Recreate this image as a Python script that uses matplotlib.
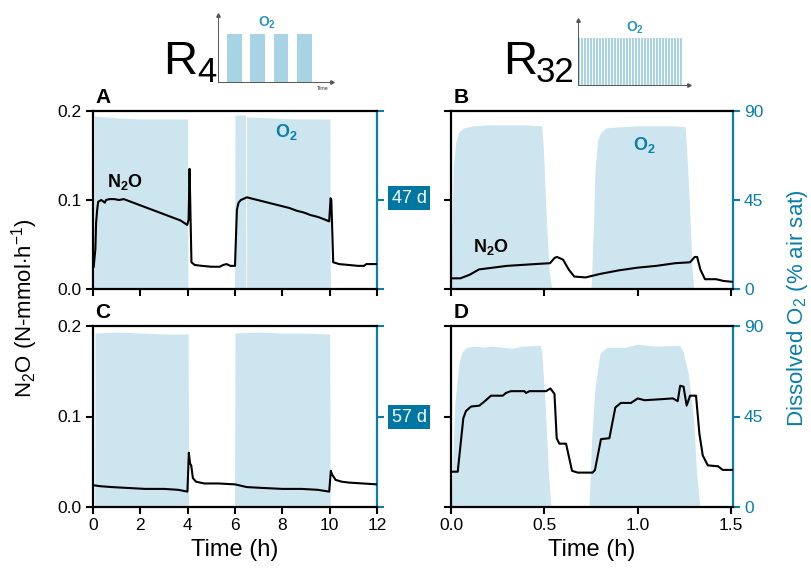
import numpy as np
import matplotlib
matplotlib.use("Agg")
import matplotlib.pyplot as plt

plt.rcParams['font.family'] = ['Liberation Sans', 'DejaVu Sans']
plt.rcParams['mathtext.fontset'] = 'custom'
plt.rcParams['mathtext.rm'] = 'Liberation Sans'
plt.rcParams['mathtext.it'] = 'Liberation Sans:italic'
plt.rcParams['mathtext.bf'] = 'Liberation Sans:bold'

TEAL = '#0a7fa8'
BOX = '#0077a3'
FILL = '#cde5ef'

# ---- panel A : R4, day 47 ----
A_t = [0.03, 0.10, 0.13, 0.18, 0.22, 0.35, 0.50, 0.55, 0.70, 0.90, 1.10, 1.30, 1.60, 1.90, 2.20,
       2.50, 2.80, 3.10, 3.40, 3.70, 3.98, 4.04, 4.08, 4.16, 4.30, 4.60, 5.00, 5.35, 5.50, 5.65,
       5.80, 6.00, 6.08, 6.15, 6.25, 6.50, 6.80, 7.10, 7.40, 7.70, 8.00, 8.30, 8.60, 8.90, 9.20,
       9.50, 9.80, 9.98, 10.04, 10.07, 10.15, 10.40, 10.80, 11.20, 11.45, 11.55, 11.70, 12.0]
A_n2o = [0.025, 0.045, 0.074, 0.090, 0.098, 0.100, 0.097, 0.100, 0.101, 0.101, 0.100, 0.101, 0.098, 0.095, 0.092,
         0.089, 0.086, 0.083, 0.080, 0.077, 0.072, 0.078, 0.135, 0.030, 0.027, 0.026, 0.025, 0.025, 0.027, 0.028,
         0.026, 0.026, 0.089, 0.097, 0.100, 0.103, 0.101, 0.099, 0.097, 0.095, 0.093, 0.091, 0.088, 0.086, 0.083,
         0.081, 0.078, 0.076, 0.102, 0.100, 0.030, 0.028, 0.027, 0.026, 0.026, 0.028, 0.028, 0.028]
A_o2_t = [0.0, 0.04, 0.06, 1.0, 2.0, 3.0, 3.99, 4.01, 5.98, 6.0, 6.3, 6.44, 6.45, 6.48, 6.49,
          7.5, 8.5, 9.5, 10.01, 10.03, 12.0]
A_o2 = [0, 0, 87.5, 86.5, 86, 86, 86, 0, 0, 88, 88, 88, 0, 0, 87,
        86.5, 86, 86, 86, 0, 0]

# ---- panel B : R32, day 47 ----
B_t = [0.0, 0.05, 0.10, 0.15, 0.30, 0.45, 0.53, 0.555, 0.568, 0.60, 0.63, 0.66, 0.72, 0.80, 0.90,
       1.00, 1.10, 1.20, 1.28, 1.305, 1.318, 1.335, 1.36, 1.42, 1.46, 1.51]
B_n2o = [0.012, 0.012, 0.016, 0.022, 0.026, 0.028, 0.029, 0.035, 0.036, 0.033, 0.022, 0.014, 0.013, 0.017, 0.021,
         0.024, 0.026, 0.029, 0.030, 0.036, 0.036, 0.022, 0.011, 0.011, 0.009, 0.008]
B_o2_t = [0.0, 0.005, 0.012, 0.025, 0.04, 0.066, 0.12, 0.2, 0.3, 0.4, 0.486, 0.495, 0.51, 0.525, 0.54,
          0.75, 0.762, 0.771, 0.785, 0.80, 0.83, 0.9, 1.0, 1.1, 1.2, 1.253, 1.262, 1.276, 1.29, 1.30, 1.51]
B_o2 = [0, 30, 62, 74, 79, 81.4, 82.5, 83, 83, 83, 82.5, 70, 36, 10, 0,
        0, 30, 60, 75, 79, 81.5, 82, 82.5, 82.5, 82.5, 82, 70, 45, 11, 0, 0]

# ---- panel C : R4, day 57 ----
C_t = [0.03, 0.3, 0.8, 1.5, 2.2, 3.0, 3.6, 3.99, 4.05, 4.10, 4.15, 4.22, 4.35, 4.7, 5.3,
       6.0, 6.5, 7.2, 8.0, 8.8, 9.5, 9.98, 10.05, 10.1, 10.25, 10.5, 10.8, 11.4, 12.0]
C_n2o = [0.024, 0.023, 0.022, 0.021, 0.020, 0.020, 0.019, 0.017, 0.060, 0.048, 0.046, 0.032, 0.028, 0.026, 0.026,
         0.025, 0.022, 0.021, 0.020, 0.020, 0.019, 0.017, 0.040, 0.036, 0.030, 0.028, 0.027, 0.026, 0.025]
C_o2_t = [0.0, 0.07, 0.09, 1.0, 2.0, 3.0, 4.02, 4.04, 5.98, 6.0, 7.0, 8.0, 9.0, 10.0, 10.02, 12.0]
C_o2 = [0, 0, 86.5, 87, 86.5, 86, 86, 0, 0, 86.5, 87, 86.5, 86.5, 86, 0, 0]

# ---- panel D : R32, day 57 ----
D_t = [0.0, 0.036, 0.066, 0.080, 0.107, 0.152, 0.187, 0.214, 0.277, 0.294, 0.321, 0.393, 0.402, 0.420, 0.509,
       0.532, 0.554, 0.566, 0.580, 0.616, 0.648, 0.678, 0.759, 0.771, 0.803, 0.848, 0.880, 0.910, 0.964, 1.000,
       1.036, 1.116, 1.188, 1.214, 1.227, 1.245, 1.262, 1.280, 1.312, 1.330, 1.348, 1.375, 1.430, 1.455, 1.510]
D_n2o = [0.039, 0.039, 0.098, 0.106, 0.111, 0.112, 0.118, 0.123, 0.123, 0.126, 0.128, 0.128, 0.126, 0.128, 0.128,
         0.131, 0.125, 0.076, 0.070, 0.070, 0.040, 0.038, 0.038, 0.041, 0.075, 0.076, 0.110, 0.115, 0.115, 0.120,
         0.118, 0.119, 0.120, 0.117, 0.134, 0.133, 0.112, 0.123, 0.123, 0.081, 0.057, 0.046, 0.045, 0.041, 0.041]
D_o2_t = [0.0, 0.01, 0.021, 0.043, 0.059, 0.085, 0.12, 0.17, 0.22, 0.27, 0.33, 0.38, 0.43, 0.477, 0.486,
          0.504, 0.521, 0.535, 0.739, 0.754, 0.771, 0.798, 0.833, 0.93, 1.0, 1.09, 1.18, 1.225, 1.243, 1.27,
          1.30, 1.315, 1.333, 1.51]
D_o2 = [0, 25, 51.7, 71.6, 77.2, 79.4, 80, 79.5, 80, 79.5, 78.9, 80, 80.2, 80.5, 77,
        51.7, 18.4, 0, 0, 35, 59.8, 76.4, 79.4, 79.4, 81, 80, 80.2, 80.3, 77.2, 66.6,
        43, 16.9, 0, 0]

n2o_ticks = [0.0, 0.1, 0.2]
o2_ticks = [0, 45, 90]
r4_xticks = [0, 2, 4, 6, 8, 10, 12]
r32_xticks = [0.0, 0.5, 1.0, 1.5]
n_pulses_r4 = 4
n_pulses_r32 = 35
day_labels = ['47 d', '57 d']

W, H = 811, 574
fig = plt.figure(figsize=(W / 100, H / 100), dpi=100)


def rect(x0, y0, x1, y1):
    # pixel box (top-left origin) -> figure fraction rect
    return [x0 / W, 1 - y1 / H, (x1 - x0) / W, (y1 - y0) / H]


def panel(r, t, n2o, o2t, o2, xlim, xticks, xlab, left_lab, right_lab):
    ax = fig.add_axes(r)
    ax2 = ax.twinx()
    ax2.fill_between(o2t, o2, 0, color=FILL, lw=0)
    ax.plot(t, n2o, color='k', lw=1.5, solid_joinstyle='round')
    ax.set_zorder(ax2.get_zorder() + 1)
    ax.patch.set_visible(False)

    ax.set_xlim(*xlim)
    ax.set_ylim(0, 0.2)
    ax2.set_ylim(0, 90)
    ax.set_xticks(xticks)
    ax.set_yticks(n2o_ticks)
    ax2.set_yticks(o2_ticks)
    ax.spines['right'].set_visible(False)
    for s in ['top', 'left', 'bottom']:
        ax2.spines[s].set_visible(False)
        ax.spines[s].set_linewidth(1.6)
    ax2.spines['right'].set_color(TEAL)
    ax2.spines['right'].set_linewidth(1.6)

    ax.tick_params(direction='out', length=5, width=1.5, labelsize=12.5, pad=3)
    ax2.tick_params(direction='out', length=5, width=1.5, labelsize=12.5, colors=TEAL, pad=3)
    if xlab:
        ax.set_xticklabels([('%g' % v) if isinstance(v, int) else ('%.1f' % v) for v in xticks])
        ax.set_xlabel('Time (h)', fontsize=17, labelpad=4)
    else:
        ax.set_xticklabels([])
    if left_lab:
        ax.set_yticklabels(['%.1f' % v for v in n2o_ticks])
    else:
        ax.set_yticklabels([])
    if not right_lab:
        ax2.set_yticklabels([])
    return ax, ax2


axA, _ = panel(rect(93, 111, 377, 289), A_t, A_n2o, A_o2_t, A_o2, (0, 12), r4_xticks, False, True, False)
axB, _ = panel(rect(451, 111, 733, 289), B_t, B_n2o, B_o2_t, B_o2, (0, 1.51), r32_xticks, False, False, True)
axC, _ = panel(rect(93, 326, 377, 507), C_t, C_n2o, C_o2_t, C_o2, (0, 12), r4_xticks, True, True, False)
axD, _ = panel(rect(451, 326, 733, 507), D_t, D_n2o, D_o2_t, D_o2, (0, 1.51), r32_xticks, True, False, True)


def ftext(x, y, s, **kw):
    fig.text(x / W, 1 - y / H, s, **kw)


# panel letters
for lab, (x, y) in zip('ABCD', [(95, 97), (454, 97), (95, 313), (454, 313)]):
    ftext(x, y, lab, fontsize=15, fontweight='bold', va='center', ha='left')

# in-plot labels
ftext(125, 182, r'$\mathbf{N_2O}$', fontsize=13, ha='center', va='center')
ftext(286, 132, r'$\mathbf{O_2}$', fontsize=13, ha='center', va='center', color=TEAL)
ftext(491, 247, r'$\mathbf{N_2O}$', fontsize=13, ha='center', va='center')
ftext(644, 145, r'$\mathbf{O_2}$', fontsize=13, ha='center', va='center', color=TEAL)

# day boxes
for lab, y in zip(day_labels, [198, 417]):
    ftext(409, y, lab, fontsize=13, color='white', ha='center', va='center',
          bbox=dict(boxstyle='square,pad=0.22', fc=BOX, ec='none'))

# axis titles
ftext(25, 308, r'N$_2$O (N-mmol$\cdot$h$^{-1}$)', fontsize=16, rotation=90, ha='center', va='center')
ftext(797, 308, r'Dissolved O$_2$ (% air sat)', fontsize=16, rotation=90, ha='center', va='center',
      color=TEAL)

# reactor titles
ftext(163, 74, 'R', fontsize=34, ha='left', va='baseline')
ftext(197, 82, '4', fontsize=25, ha='left', va='baseline')
ftext(503, 74, 'R', fontsize=34, ha='left', va='baseline')
ftext(536, 82, '32', fontsize=25, ha='left', va='baseline')


def schematic(r, n, period, width, x0, xmax, o2_xy):
    ax = fig.add_axes(r)
    starts = x0 + period * np.arange(n)
    ax.bar(starts, 0.72, width=width, align='edge', color='#a8d3e5', lw=0)
    ax.set_xlim(0, xmax)
    ax.set_ylim(0, 1)
    ax.set_xticks([])
    ax.set_yticks([])
    for s in ['top', 'right']:
        ax.spines[s].set_visible(False)
    for s in ['left', 'bottom']:
        ax.spines[s].set_color('#555555')
        ax.spines[s].set_linewidth(0.7)
    ax.plot([0], [1], marker='^', ms=2.5, color='#555555', clip_on=False)
    ax.plot([xmax], [0], marker='>', ms=2.5, color='#555555', clip_on=False)
    ax.patch.set_visible(False)
    ftext(o2_xy[0], o2_xy[1], r'$\mathbf{O_2}$', fontsize=10, ha='center', va='center', color='#2a94c0')


schematic(rect(218, 15, 332, 82), n_pulses_r4, 1.0, 0.64, 0.39, 4.9, (267, 23))
ftext(323, 88, 'Time', fontsize=4, ha='center', va='center', color='#333333')
schematic(rect(578, 20, 689, 85), n_pulses_r32, 1.0, 0.6, 0.05, 37.0, (635, 28))

fig.savefig('out.png', dpi=100)
